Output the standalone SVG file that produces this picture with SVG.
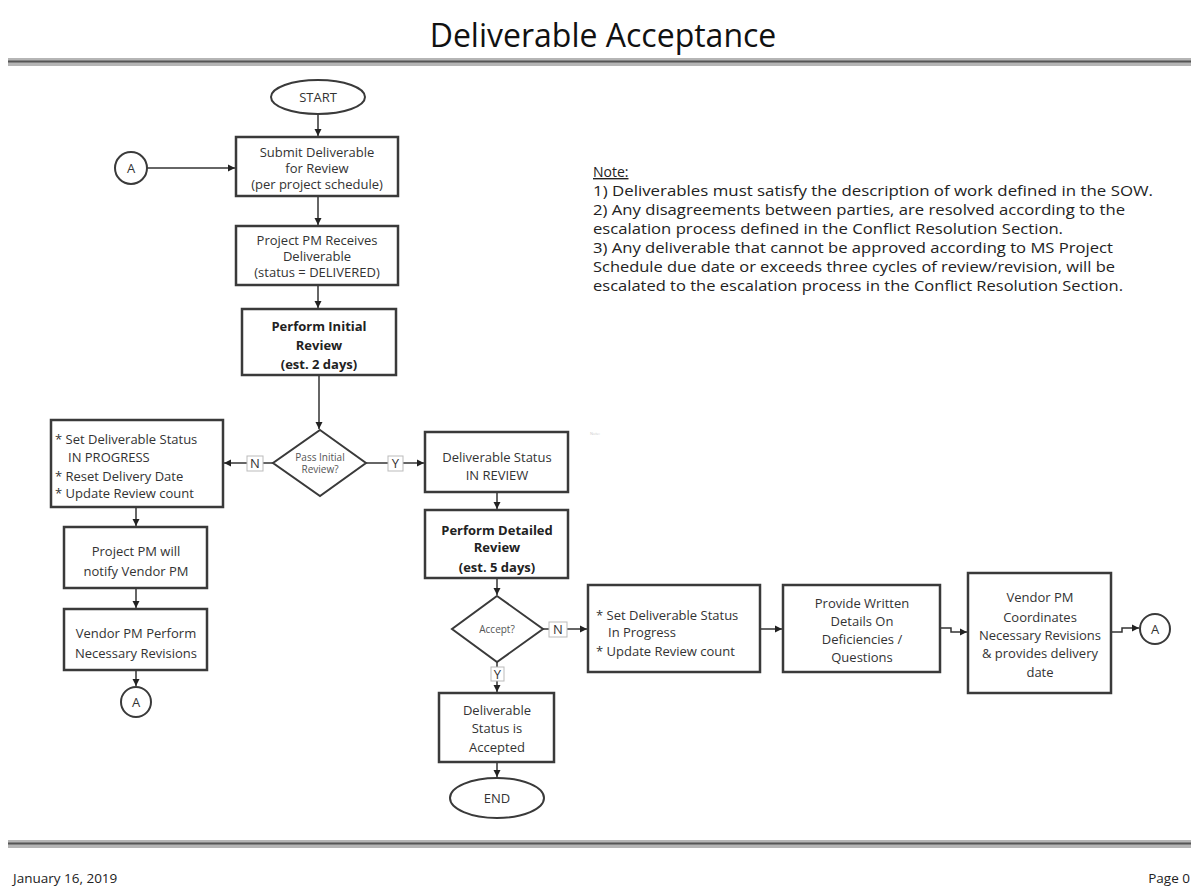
<svg xmlns="http://www.w3.org/2000/svg" width="1191" height="888" viewBox="0 0 1191 888">
<defs>
<marker id="ah" markerWidth="8" markerHeight="8" refX="7" refY="4" orient="auto" markerUnits="userSpaceOnUse">
<path d="M0,0.5 L7,4 L0,7.5 Z" fill="#222"/>
</marker>
<style>
.box{fill:#fff;stroke:#3a3a3a;stroke-width:2.5}
.shape{fill:#fff;stroke:#3a3a3a;stroke-width:2}
.lbl{fill:#fff;stroke:#bbb;stroke-width:1}
.t{font-family:"Open Sans","Liberation Sans",sans-serif;font-size:13px;fill:#333;text-anchor:middle}
.tl{font-family:"Open Sans","Liberation Sans",sans-serif;font-size:13px;fill:#333}
.b{font-weight:bold;fill:#222}
.s{font-family:"Open Sans","Liberation Sans",sans-serif;font-size:10px;fill:#555;text-anchor:middle}
.note{font-family:"Open Sans","Liberation Sans",sans-serif;font-size:14px;fill:#222}
.c{fill:none;stroke:#333;stroke-width:1.5}
</style>
</defs>
<rect width="1191" height="888" fill="#fff"/>
<text x="603" y="47" font-family="'Open Sans','Liberation Sans',sans-serif" font-size="32" fill="#111" text-anchor="middle">Deliverable Acceptance</text>
<rect x="8" y="58" width="1183" height="8" fill="#b5b5b5"/>
<line x1="8" y1="61.5" x2="1191" y2="61.5" stroke="#555" stroke-width="2"/>
<rect x="8" y="840" width="1183" height="8" fill="#b5b5b5"/>
<line x1="8" y1="843.5" x2="1191" y2="843.5" stroke="#555" stroke-width="2"/>
<text x="13" y="883" font-family="'Open Sans','Liberation Sans',sans-serif" font-size="13.5" fill="#222">January 16, 2019</text>
<text x="1190" y="883" font-family="'Open Sans','Liberation Sans',sans-serif" font-size="13.5" fill="#222" text-anchor="end">Page 0</text>

<g id="note">
<text class="note" x="593" y="177" text-decoration="underline">Note:</text>
<text class="note" x="593" y="196" textLength="560" lengthAdjust="spacingAndGlyphs">1) Deliverables must satisfy the description of work defined in the SOW.</text>
<text class="note" x="593" y="215" textLength="532" lengthAdjust="spacingAndGlyphs">2) Any disagreements between parties, are resolved according to the</text>
<text class="note" x="593" y="234" textLength="470" lengthAdjust="spacingAndGlyphs">escalation process defined in the Conflict Resolution Section.</text>
<text class="note" x="593" y="253" textLength="520" lengthAdjust="spacingAndGlyphs">3) Any deliverable that cannot be approved according to MS Project</text>
<text class="note" x="593" y="272" textLength="522" lengthAdjust="spacingAndGlyphs">Schedule due date or exceeds three cycles of review/revision, will be</text>
<text class="note" x="593" y="291" textLength="530" lengthAdjust="spacingAndGlyphs">escalated to the escalation process in the Conflict Resolution Section.</text>
<text x="590" y="435" font-family="'Open Sans','Liberation Sans',sans-serif" font-size="4" fill="#ccc">Note:</text>
</g>

<g id="connectors">
<line class="c" x1="318" y1="114" x2="318" y2="136" marker-end="url(#ah)"/>
<line class="c" x1="147" y1="168" x2="235" y2="168" marker-end="url(#ah)"/>
<line class="c" x1="318" y1="197" x2="318" y2="225" marker-end="url(#ah)"/>
<line class="c" x1="318" y1="286" x2="318" y2="308" marker-end="url(#ah)"/>
<line class="c" x1="319" y1="376" x2="319" y2="429" marker-end="url(#ah)"/>
<line class="c" x1="273" y1="463" x2="263" y2="463"/>
<line class="c" x1="247" y1="463" x2="224" y2="463" marker-end="url(#ah)"/>
<line class="c" x1="366" y1="463" x2="388" y2="463"/>
<line class="c" x1="403" y1="463" x2="424" y2="463" marker-end="url(#ah)"/>
<line class="c" x1="136" y1="508" x2="136" y2="526" marker-end="url(#ah)"/>
<line class="c" x1="136" y1="589" x2="136" y2="608" marker-end="url(#ah)"/>
<line class="c" x1="136" y1="671" x2="136" y2="686" marker-end="url(#ah)"/>
<line class="c" x1="497" y1="493" x2="497" y2="509" marker-end="url(#ah)"/>
<line class="c" x1="497" y1="579" x2="497" y2="595" marker-end="url(#ah)"/>
<line class="c" x1="543" y1="629" x2="549" y2="629"/>
<line class="c" x1="567" y1="629" x2="587" y2="629" marker-end="url(#ah)"/>
<line class="c" x1="497" y1="662" x2="497" y2="667"/>
<line class="c" x1="497" y1="681" x2="497" y2="692" marker-end="url(#ah)"/>
<line class="c" x1="497" y1="763" x2="497" y2="777" marker-end="url(#ah)"/>
<line class="c" x1="761" y1="629" x2="782" y2="629" marker-end="url(#ah)"/>
<path class="c" d="M941,628 L951,628 L951,632 L967,632" marker-end="url(#ah)"/>
<path class="c" d="M1112,632 L1122,632 L1122,628 L1139,628" marker-end="url(#ah)"/>
</g>

<g id="start">
<ellipse class="shape" cx="318" cy="97" rx="47" ry="17"/>
<text class="t" x="318" y="102">START</text>
</g>
<g id="connA1">
<circle class="shape" cx="131" cy="168" r="16"/>
<text class="t" x="131" y="173">A</text>
</g>
<g id="submit">
<rect class="box" x="236" y="137" width="162" height="59"/>
<text class="t" x="317" y="157">Submit Deliverable</text>
<text class="t" x="317" y="173">for Review</text>
<text class="t" x="317" y="189">(per project schedule)</text>
</g>
<g id="receives">
<rect class="box" x="236" y="226" width="162" height="59"/>
<text class="t" x="317" y="245">Project PM Receives</text>
<text class="t" x="317" y="261">Deliverable</text>
<text class="t" x="317" y="277">(status = DELIVERED)</text>
</g>
<g id="initial">
<rect class="box" x="242" y="309" width="154" height="66"/>
<text class="t b" x="319" y="331">Perform Initial</text>
<text class="t b" x="319" y="350">Review</text>
<text class="t b" x="319" y="369">(est. 2 days)</text>
</g>
<g id="passInitial">
<polygon class="shape" points="320,430 366,463 320,496 273,463"/>
<text class="s" x="320" y="461">Pass Initial</text>
<text class="s" x="320" y="473">Review?</text>
</g>
<g id="lblN1">
<rect class="lbl" x="247" y="456" width="16" height="15"/>
<text class="t" x="255" y="468">N</text>
</g>
<g id="lblY1">
<rect class="lbl" x="388" y="456" width="15" height="15"/>
<text class="t" x="395.5" y="468">Y</text>
</g>
<g id="setProgress1">
<rect class="box" x="51" y="420" width="172" height="87"/>
<text class="tl" x="55" y="444">* Set Deliverable Status</text>
<text class="tl" x="68" y="462">IN PROGRESS</text>
<text class="tl" x="55" y="481">* Reset Delivery Date</text>
<text class="tl" x="55" y="498">* Update Review count</text>
</g>
<g id="notify">
<rect class="box" x="64" y="527" width="143" height="61"/>
<text class="t" x="136" y="556">Project PM will</text>
<text class="t" x="136" y="576">notify Vendor PM</text>
</g>
<g id="vendorPerform">
<rect class="box" x="64" y="609" width="143" height="61"/>
<text class="t" x="136" y="638">Vendor PM Perform</text>
<text class="t" x="136" y="658">Necessary Revisions</text>
</g>
<g id="connA2">
<circle class="shape" cx="136" cy="702" r="15"/>
<text class="t" x="136" y="707">A</text>
</g>
<g id="inReview">
<rect class="box" x="425" y="432" width="143" height="60"/>
<text class="t" x="497" y="462">Deliverable Status</text>
<text class="t" x="497" y="480">IN REVIEW</text>
</g>
<g id="detailed">
<rect class="box" x="425" y="510" width="143" height="68"/>
<text class="t b" x="497" y="535">Perform Detailed</text>
<text class="t b" x="497" y="552">Review</text>
<text class="t b" x="497" y="572">(est. 5 days)</text>
</g>
<g id="accept">
<polygon class="shape" points="497,596 543,629 497,662 452,629"/>
<text class="s" x="497" y="633">Accept?</text>
</g>
<g id="lblN2">
<rect class="lbl" x="549" y="622" width="18" height="15"/>
<text class="t" x="558" y="634">N</text>
</g>
<g id="lblY2">
<rect class="lbl" x="491" y="667" width="13" height="14"/>
<text class="t" x="497.5" y="679">Y</text>
</g>
<g id="accepted">
<rect class="box" x="439" y="693" width="115" height="69"/>
<text class="t" x="497" y="715">Deliverable</text>
<text class="t" x="497" y="733">Status is</text>
<text class="t" x="497" y="752">Accepted</text>
</g>
<g id="end">
<ellipse class="shape" cx="497" cy="798" rx="47" ry="20"/>
<text class="t" x="497" y="803">END</text>
</g>
<g id="setProgress2">
<rect class="box" x="588" y="585" width="172" height="87"/>
<text class="tl" x="596" y="620">* Set Deliverable Status</text>
<text class="tl" x="608" y="637">In Progress</text>
<text class="tl" x="596" y="656">* Update Review count</text>
</g>
<g id="provide">
<rect class="box" x="783" y="585" width="157" height="87"/>
<text class="t" x="862" y="608">Provide Written</text>
<text class="t" x="862" y="626">Details On</text>
<text class="t" x="862" y="644">Deficiencies /</text>
<text class="t" x="862" y="662">Questions</text>
</g>
<g id="coordinates">
<rect class="box" x="968" y="573" width="143" height="120"/>
<text class="t" x="1040" y="602">Vendor PM</text>
<text class="t" x="1040" y="622">Coordinates</text>
<text class="t" x="1040" y="640">Necessary Revisions</text>
<text class="t" x="1040" y="658">&amp; provides delivery</text>
<text class="t" x="1040" y="677">date</text>
</g>
<g id="connA3">
<circle class="shape" cx="1155" cy="629" r="15"/>
<text class="t" x="1155" y="634">A</text>
</g>
</svg>
